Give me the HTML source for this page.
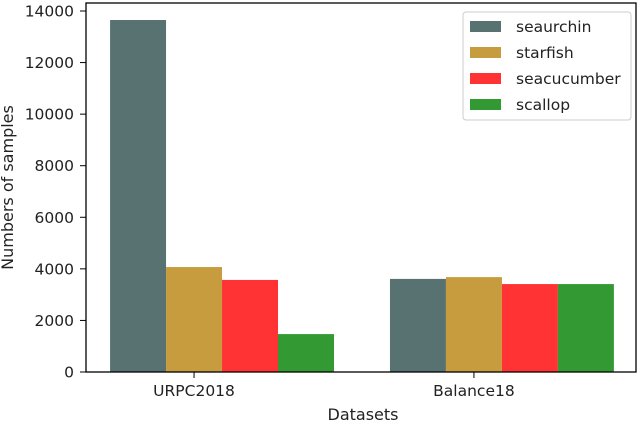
<!DOCTYPE html>
<html><head><meta charset="utf-8"><style>
body{margin:0;background:#fff;}
svg{display:block;font-family:"DejaVu Sans","Liberation Sans",sans-serif;}
</style></head><body>
<svg id="chart" width="640" height="422" viewBox="0 0 640 422" xmlns="http://www.w3.org/2000/svg"></svg>
<script>
const categories = ["URPC2018", "Balance18"];
const seriesNames = ["seaurchin", "starfish", "seacucumber", "scallop"];
const seaurchin = [13650, 3610];
const starfish = [4070, 3680];
const seacucumber = [3570, 3410];
const scallop = [1470, 3410];
const yTicks = [0, 2000, 4000, 6000, 8000, 10000, 12000, 14000];
const colors = ["#587272", "#c69c3e", "#ff3333", "#339933"];
const series = [seaurchin, starfish, seacucumber, scallop];

const NS = "http://www.w3.org/2000/svg";
const svg = document.getElementById("chart");
const L = 86, R = 636, T = 3, B = 372;
const xMin = -0.386, xMax = 1.579, yMax = 14310;
const barW = 0.2;
function xs(v){ return L + (v - xMin) / (xMax - xMin) * (R - L); }
function ys(v){ return B - v / yMax * (B - T); }
function mk(tag, attrs, parent){
  const e = document.createElementNS(NS, tag);
  for (const k in attrs) e.setAttribute(k, attrs[k]);
  (parent || svg).appendChild(e);
  return e;
}

const bars = mk("g", {});


series.forEach((vals, si) => {
  vals.forEach((v, ci) => {
    const x0 = xs(ci + (si - 1.5) * barW);
    const x1 = xs(ci + (si - 0.5) * barW);
    const r = mk("rect", {x: x0, y: ys(v), width: x1 - x0, height: B - ys(v), fill: colors[si]}, bars);
    
    
  });
});

const frame = mk("rect", {x: L, y: T, width: R - L, height: B - T, fill: "none", stroke: "#000", "stroke-width": 1.3});



yTicks.forEach(t => {
  const y = ys(t);
  const tk = mk("line", {x1: L - 6, x2: L, y1: y, y2: y, stroke: "#000", "stroke-width": 1});
  
  
  const tx = mk("text", {x: L - 12, y: y + 5.5, "text-anchor": "end", "font-size": 15.5, fill: "#222"});
  tx.textContent = t;
  
  
});
categories.forEach((c, i) => {
  const x = xs(i);
  const tk = mk("line", {x1: x, x2: x, y1: B, y2: B + 6, stroke: "#000", "stroke-width": 1});
  
  
  const tx = mk("text", {x: x, y: B + 24, "text-anchor": "middle", "font-size": 15.5, fill: "#222"});
  tx.textContent = c;
  
  
});

const xt = mk("text", {x: (L + R) / 2 + 2, y: 420, "text-anchor": "middle", "font-size": 16, fill: "#222"});
xt.textContent = "Datasets";


const yt = mk("text", {x: 0, y: 0, "text-anchor": "middle", "font-size": 16, fill: "#222", transform: "translate(13," + ((T + B) / 2) + ") rotate(-90)"});
yt.textContent = "Numbers of samples";



const lg = mk("g", {});


const lb = mk("rect", {x: 463, y: 12, width: 168, height: 108, rx: 3, fill: "#fff", stroke: "#ccc", "stroke-width": 1}, lg);


seriesNames.forEach((n, i) => {
  const y = 26 + i * 26;
  const sw = mk("rect", {x: 470, y: y - 5, width: 31, height: 11, fill: colors[i]}, lg);
  
  
  const t = mk("text", {x: 516, y: y + 6, "font-size": 15.5, fill: "#222"}, lg);
  t.textContent = n;
  
  
});
</script>
</body></html>
